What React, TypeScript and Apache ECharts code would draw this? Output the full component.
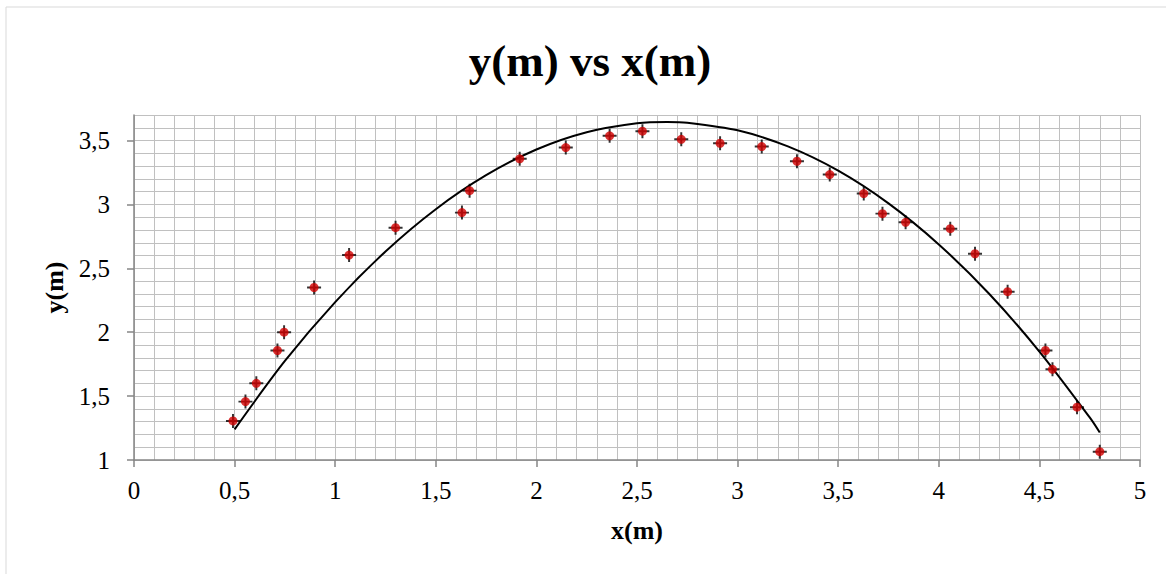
import React, { useEffect, useRef } from "react";
import * as echarts from "echarts";

const xData = [0.492, 0.554, 0.608, 0.713, 0.746, 0.895, 1.069, 1.3, 1.63, 1.668, 1.917, 2.146, 2.364, 2.527, 2.72, 2.913, 3.12, 3.295, 3.458, 3.627, 3.72, 3.835, 4.057, 4.18, 4.342, 4.53, 4.565, 4.687, 4.8];
const yData = [1.306, 1.457, 1.6, 1.857, 2.0, 2.35, 2.604, 2.818, 2.936, 3.108, 3.357, 3.445, 3.537, 3.573, 3.51, 3.479, 3.453, 3.338, 3.234, 3.085, 2.928, 2.86, 2.81, 2.614, 2.317, 1.857, 1.71, 1.413, 1.065];

const trendX = [0.5, 0.75, 1.0, 1.25, 1.5, 1.75, 2.0, 2.25, 2.5, 2.65, 2.75, 3.0, 3.25, 3.5, 3.75, 4.0, 4.25, 4.5, 4.75, 4.8];
const trendY = [1.24, 1.775, 2.236, 2.632, 2.963, 3.229, 3.43, 3.565, 3.635, 3.646, 3.64, 3.58, 3.454, 3.264, 3.008, 2.687, 2.301, 1.849, 1.333, 1.215];

const xTicks = [0, 0.5, 1, 1.5, 2, 2.5, 3, 3.5, 4, 4.5, 5];
const yTicks = [1, 1.5, 2, 2.5, 3, 3.5];

const titleText = "y(m) vs x(m)";
const xName = "x(m)";
const yName = "y(m)";

const FONT = "'Liberation Serif', 'Times New Roman', serif";
const AXIS_COLOR = "#868686";
const GRID_COLOR = "#c0c0c0";

const fmt = (v: number) => String(Math.round(v * 100) / 100).replace(".", ",");

export default function App() {
  const ref = useRef<HTMLDivElement>(null);
  useEffect(() => {
    if (!ref.current) return;
    const chart = echarts.init(ref.current, null, { renderer: "svg" });
    const points = xData.map((x, i) => [x, yData[i]]);
    const trend = trendX.map((x, i) => [x, trendY[i]]);
    const hiddenParts = {
      axisLine: { show: false },
      axisTick: { show: false },
      axisLabel: { show: false },
      splitLine: { show: true, lineStyle: { color: GRID_COLOR, width: 1 } },
    };
    chart.setOption({
      animation: false,
      backgroundColor: "#ffffff",
      graphic: [
        {
          type: "rect",
          shape: { x: 6, y: 7, width: 1200, height: 620 },
          style: { fill: "none", stroke: "#d9d9d9", lineWidth: 1 },
          z: -10,
          silent: true,
        },
        {
          type: "text",
          x: 590,
          y: 61,
          style: {
            text: titleText,
            font: `bold 45px ${FONT}`,
            fill: "#000",
            textAlign: "center",
            textVerticalAlign: "middle",
          },
        },
      ],
      grid: { left: 134, right: 26, top: 115, bottom: 114, containLabel: false },
      xAxis: [
        {
          type: "value",
          min: 0,
          max: 5,
          interval: 0.5,
          name: xName,
          nameLocation: "middle",
          nameGap: 57,
          nameTextStyle: { fontFamily: FONT, fontSize: 26, fontWeight: "bold", color: "#000" },
          axisLine: { show: true, onZero: false, lineStyle: { color: AXIS_COLOR, width: 1.5 } },
          axisTick: { show: true, customValues: xTicks, length: 7, lineStyle: { color: AXIS_COLOR, width: 1.5 } },
          axisLabel: {
            customValues: xTicks,
            formatter: (v: number) => fmt(v),
            fontFamily: FONT,
            fontSize: 25,
            color: "#000",
            margin: 18,
          },
          splitLine: { show: false },
          z: 5,
        },
        { type: "value", min: 0, max: 5, interval: 0.1, position: "bottom", ...hiddenParts, z: 1 },
      ],
      yAxis: [
        {
          type: "value",
          min: 1,
          max: 3.7,
          interval: 0.5,
          name: yName,
          nameLocation: "middle",
          nameGap: 64,
          nameTextStyle: { fontFamily: FONT, fontSize: 26, fontWeight: "bold", color: "#000" },
          axisLine: { show: true, onZero: false, lineStyle: { color: AXIS_COLOR, width: 1.5 } },
          axisTick: { show: true, customValues: yTicks, length: 7, lineStyle: { color: AXIS_COLOR, width: 1.5 } },
          axisLabel: {
            customValues: yTicks,
            formatter: (v: number) => fmt(v),
            fontFamily: FONT,
            fontSize: 25,
            color: "#000",
            margin: 24,
          },
          splitLine: { show: false },
          z: 5,
        },
        { type: "value", min: 1, max: 3.7, interval: 0.1, position: "left", ...hiddenParts, z: 1 },
      ],
      series: [
        {
          type: "line",
          data: trend,
          smooth: 0.3,
          showSymbol: false,
          symbol: "none",
          lineStyle: { color: "#000", width: 2 },
          z: 2,
        },
        {
          type: "scatter",
          data: points,
          symbol: "path://M4.3,0H5.7V4.3H10V5.7H5.7V10H4.3V5.7H0V4.3H4.3Z",
          symbolSize: 14,
          itemStyle: { color: "#000" },
          z: 3,
        },
        {
          type: "scatter",
          data: points,
          symbol: "circle",
          symbolSize: 9,
          itemStyle: { color: "#d00000" },
          z: 4,
        },
      ],
    });
    return () => chart.dispose();
  }, []);
  return (
    <div
      ref={ref}
      style={{ position: "absolute", left: 0, top: 0, width: 1166, height: 574 }}
    />
  );
}
